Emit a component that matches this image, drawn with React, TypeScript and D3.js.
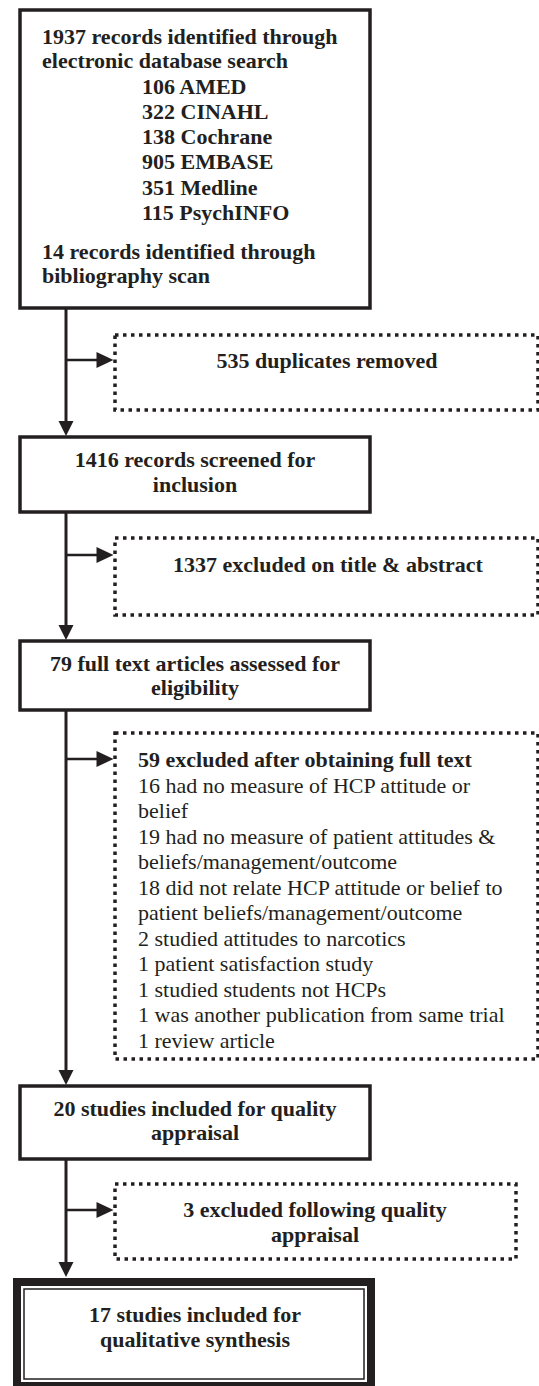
import React from "react";
import * as d3 from "d3";

// ---- Data ----
const dbTotal = 1937;
const dbNames = ["AMED", "CINAHL", "Cochrane", "EMBASE", "Medline", "PsychINFO"];
const dbCounts = [106, 322, 138, 905, 351, 115];
const bibTotal = 14;
const duplicates = 535;
const screened = 1416;
const excludedTitle = 1337;
const fullText = 79;
const excludedFull = 59;
const reasonCounts = [16, 19, 18, 2, 1, 1, 1, 1];
const reasonLabels = [
  ["had no measure of HCP attitude or", "belief"],
  ["had no measure of patient attitudes &", "beliefs/management/outcome"],
  ["did not relate HCP attitude or belief to", "patient beliefs/management/outcome"],
  ["studied attitudes to narcotics"],
  ["patient satisfaction study"],
  ["studied students not HCPs"],
  ["was another publication from same trial"],
  ["review article"],
];
const qualityCount = 20;
const excludedQuality = 3;
const includedCount = 17;

const INK = "#231f20";
const FONT = "'Liberation Serif', 'Times New Roman', Times, serif";

export default function App() {
  const W = 539, H = 1386;
  const mainX = 66;
  const boxL = 20, boxR = 370;
  const dotL = 115, dotR = 538;

  const main = [
    { y0: 10, y1: 308 },
    { y0: 437, y1: 512 },
    { y0: 641, y1: 710 },
    { y0: 1086, y1: 1159 },
    { y0: 1278, y1: 1386 },
  ];

  const side = [
    { y0: 335, y1: 410, r: dotR, ay: 360 },
    { y0: 538, y1: 615, r: dotR, ay: 555 },
    { y0: 733, y1: 1059, r: dotR, ay: 759 },
    { y0: 1184, y1: 1259, r: 516, ay: 1210 },
  ];

  const line = d3.line<[number, number]>();

  const downArrow = (tipY: number) =>
    line([[mainX - 7.5, tipY - 15], [mainX + 7.5, tipY - 15], [mainX, tipY]]) + "Z";
  const rightArrow = (tipX: number, y: number) =>
    line([[tipX - 17, y - 8], [tipX - 17, y + 8], [tipX, y]]) + "Z";

  const connectors = [
    { from: 308, to: 437 },
    { from: 512, to: 641 },
    { from: 710, to: 1086 },
    { from: 1159, to: 1278 },
  ];

  const topBaselines = [44, 68, 94, 119, 144, 169, 195, 220];
  const reasonLines: { text: string; bold: boolean }[] = [
    { text: `${excludedFull} excluded after obtaining full text`, bold: true },
  ];
  reasonCounts.forEach((c, i) => {
    reasonLabels[i].forEach((l, j) => {
      reasonLines.push({ text: j === 0 ? `${c} ${l}` : l, bold: false });
    });
  });
  const reasonY = d3.scaleLinear().domain([0, 1]).range([767, 792.5]);

  return (
    <svg
      width={W}
      height={H}
      style={{ position: "absolute", left: 0, top: 0, background: "#fff", display: "block" }}
      fontFamily={FONT}
      fontSize={22}
      fill={INK}
    >
      <rect x={0} y={0} width={W} height={H} fill="#fff" />
      {main.slice(0, 4).map((b, i) => (
        <rect key={i} x={boxL} y={b.y0} width={boxR - boxL} height={b.y1 - b.y0}
          fill="#fff" stroke={INK} strokeWidth={3.5} />
      ))}
      <rect x={17} y={1282} width={354} height={104} fill="#fff" stroke={INK} strokeWidth={8} />
      <rect x={24} y={1289} width={340} height={90} fill="none" stroke={INK} strokeWidth={1.5} />

      {connectors.map((c, i) => (
        <g key={i}>
          <line x1={mainX} x2={mainX} y1={c.from} y2={c.to - 12} stroke={INK} strokeWidth={3} />
          <path d={downArrow(c.to - 1)} fill={INK} />
        </g>
      ))}

      {side.map((s, i) => (
        <g key={i}>
          <rect x={dotL} y={s.y0} width={s.r - dotL} height={s.y1 - s.y0}
            fill="none" stroke={INK} strokeWidth={3.5} strokeDasharray="3.5 4.5" />
          <line x1={mainX} x2={dotL - 14} y1={s.ay} y2={s.ay} stroke={INK} strokeWidth={2.5} />
          <path d={rightArrow(dotL - 1.5, s.ay)} fill={INK} />
        </g>
      ))}

      <g fontWeight="bold">
        <text x={42} y={topBaselines[0]}>{dbTotal} records identified through</text>
        <text x={42} y={topBaselines[1]}>electronic database search</text>
        {dbNames.map((n, i) => (
          <text key={n} x={142} y={topBaselines[i + 2]}>{dbCounts[i]} {n}</text>
        ))}
        <text x={42} y={259}>{bibTotal} records identified through</text>
        <text x={42} y={283}>bibliography scan</text>

        <text x={327} y={368} textAnchor="middle">{duplicates} duplicates removed</text>

        <text x={195} y={467} textAnchor="middle">{screened} records screened for</text>
        <text x={195} y={492} textAnchor="middle">inclusion</text>

        <text x={328} y={572} textAnchor="middle">{excludedTitle} excluded on title &amp; abstract</text>

        <text x={195} y={671} textAnchor="middle">{fullText} full text articles assessed for</text>
        <text x={195} y={695} textAnchor="middle">eligibility</text>

        <text x={195} y={1116} textAnchor="middle">{qualityCount} studies included for quality</text>
        <text x={195} y={1140} textAnchor="middle">appraisal</text>

        <text x={315} y={1217} textAnchor="middle">{excludedQuality} excluded following quality</text>
        <text x={315} y={1242} textAnchor="middle">appraisal</text>

        <text x={195} y={1322} textAnchor="middle">{includedCount} studies included for</text>
        <text x={195} y={1347} textAnchor="middle">qualitative synthesis</text>
      </g>

      {reasonLines.map((l, i) => (
        <text key={i} x={138} y={reasonY(i)} fontWeight={l.bold ? "bold" : "normal"}>{l.text}</text>
      ))}
    </svg>
  );
}
